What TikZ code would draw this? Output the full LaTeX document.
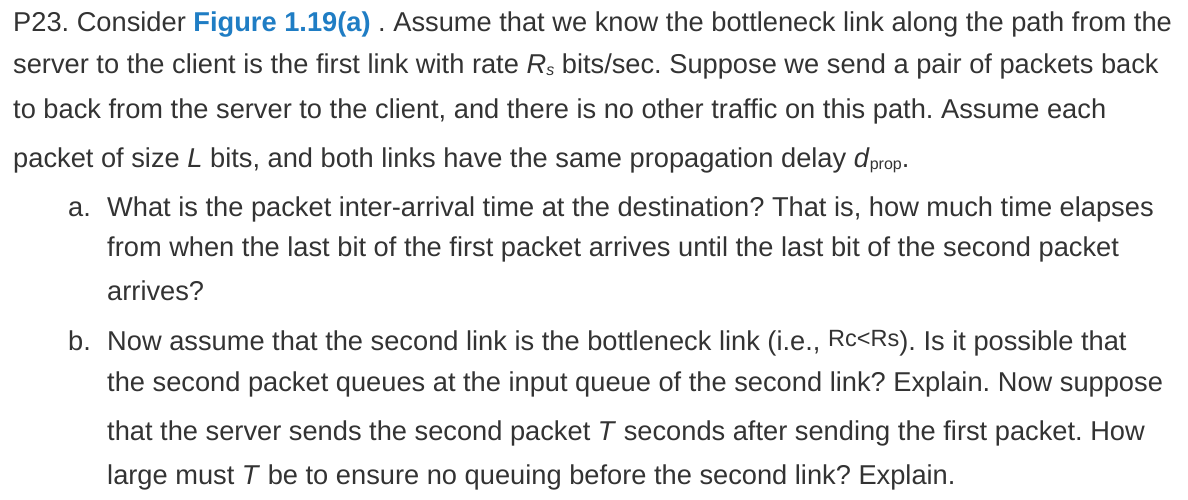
\documentclass[tikz,border=0pt]{standalone}
\usepackage{fontspec}
\setmainfont{Liberation Sans}
\definecolor{txt}{HTML}{333333}
\definecolor{lnk}{HTML}{1F7DC4}
\newcommand{\smallsub}[1]{\raisebox{-2pt}{\fontsize{16}{16}\selectfont #1}}
\begin{document}
\frenchspacing
\begin{tikzpicture}[x=1pt,y=1pt,
  line/.style={anchor=base west,inner sep=0pt,text=txt,font=\fontsize{27.25}{30}\selectfont}]
\useasboundingbox[fill=white] (0,0) rectangle (1188,-499);
\node[line] (l1) at (13,-31) {P23. Consider \textcolor{lnk}{\textbf{Figure 1.19(a)}} . Assume that we know the bottleneck link along the path from the};
\node[line] (l2) at (13,-73) {server to the client is the first link with rate \textit{R}\smallsub{\textit{s}} bits/sec. Suppose we send a pair of packets back};
\node[line] (l3) at (13,-118) {to back from the server to the client, and there is no other traffic on this path. Assume each};
\node[line] (l4) at (13,-167) {packet of size \textit{L} bits, and both links have the same propagation delay \textit{d}\smallsub{prop}.};
\node[line] (la) at (68,-216) {a.};
\node[line] (a1) at (107,-216) {What is the packet inter-arrival time at the destination? That is, how much time elapses};
\node[line] (a2) at (107,-256) {from when the last bit of the first packet arrives until the last bit of the second packet};
\node[line] (a3) at (107,-300) {arrives?};
\node[line] (lb) at (68,-350) {b.};
\node[line] (b1) at (107,-350) {Now assume that the second link is the bottleneck link (i.e., \raisebox{4pt}{\fontsize{23.5}{23.5}\selectfont Rc<Rs}). Is it possible that};
\node[line] (b2) at (107,-391) {the second packet queues at the input queue of the second link? Explain. Now suppose};
\node[line] (b3) at (107,-440) {that the server sends the second packet \textit{T} seconds after sending the first packet. How};
\node[line] (b4) at (107,-484) {large must \textit{T} be to ensure no queuing before the second link? Explain.};
\end{tikzpicture}
\end{document}
